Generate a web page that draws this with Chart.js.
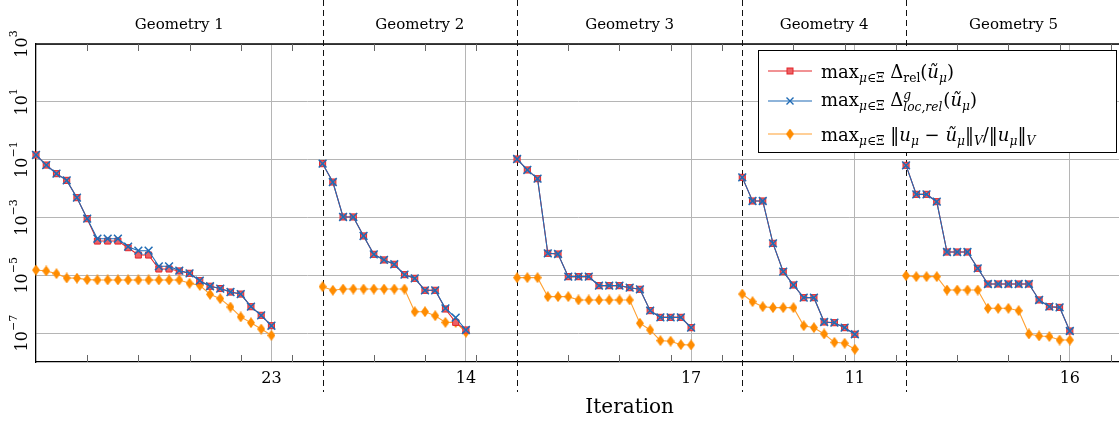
<!DOCTYPE html>
<html>
<head>
<meta charset="utf-8">
<script src="https://cdn.jsdelivr.net/npm/chart.js@4.4.1/dist/chart.umd.min.js"></script>
<style>
    html, body { margin: 0; padding: 0; background: #fff; overflow: hidden; }
    #wrap { position: relative; width: 1140px; height: 423px; }
    #legend {
        position: absolute; left: 758px; top: 50px; width: 357px; height: 101px;
        border: 1px solid #000; background: #fff;
        font-family: "DejaVu Serif", serif; font-size: 18px; color: #000;
    }
    .row { position: absolute; left: 0; height: 30px; display: flex; align-items: center; white-space: nowrap; }
    .row canvas { margin-left: 8px; margin-right: 8px; }
    sub { font-size: 0.68em; vertical-align: -0.35em; line-height: 0; }
    .ss { display: inline-block; font-size: 0.68em; line-height: 1.0; vertical-align: -0.45em; margin-right: 1px; }
    .ss > i { display: block; }
</style>
</head>
<body>
<div id="wrap">
    <canvas id="errChart"></canvas>
    <div id="legend">
        <div class="row" style="top:5px"><canvas width="46" height="20" data-s="rel"></canvas>
            <span>max<sub><i>μ</i>∈Ξ</sub> Δ<sub>rel</sub>(<i>ũ</i><sub><i>μ</i></sub>)</span></div>
        <div class="row" style="top:35px"><canvas width="46" height="20" data-s="loc"></canvas>
            <span>max<sub><i>μ</i>∈Ξ</sub> Δ<span class="ss"><i>g</i><i>loc,rel</i></span>(<i>ũ</i><sub><i>μ</i></sub>)</span></div>
        <div class="row" style="top:68px"><canvas width="46" height="20" data-s="err"></canvas>
            <span>max<sub><i>μ</i>∈Ξ</sub> ‖<i>u</i><sub><i>μ</i></sub> − <i>ũ</i><sub><i>μ</i></sub>‖<sub><i>V</i></sub>/‖<i>u</i><sub><i>μ</i></sub>‖<sub><i>V</i></sub></span></div>
    </div>
</div>
<script>
const geometries = ['Geometry 1', 'Geometry 2', 'Geometry 3', 'Geometry 4', 'Geometry 5'];
const iterations = [23, 14, 17, 11, 16];
const yTicks = [1e-7, 1e-5, 1e-3, 1e-1, 1e1, 1e3];

// max Delta_rel (red squares), one list per geometry
const relEst = [
    [1.45e-1, 6.5e-2, 3.27e-2, 1.92e-2, 4.83e-3, 9.06e-4, 1.53e-4, 1.53e-4, 1.53e-4, 9.0e-5, 5.02e-5, 5.02e-5,
     1.65e-5, 1.65e-5, 1.41e-5, 1.17e-5, 6.5e-6, 4.17e-6, 3.47e-6, 2.63e-6, 2.24e-6, 8.18e-7, 4.12e-7, 1.8e-7],
    [7.24e-2, 1.68e-2, 1.04e-3, 1.04e-3, 2.29e-4, 5.31e-5, 3.39e-5, 2.4e-5, 1.05e-5, 7.85e-6, 3.02e-6, 3.02e-6,
     6.81e-7, 2.35e-7, 1.28e-7],
    [1.05e-1, 4.39e-2, 2.19e-2, 5.75e-5, 5.44e-5, 8.95e-6, 8.95e-6, 8.95e-6, 4.37e-6, 4.37e-6, 4.37e-6, 3.72e-6,
     3.27e-6, 5.97e-7, 3.51e-7, 3.51e-7, 3.51e-7, 1.54e-7],
    [2.44e-2, 3.71e-3, 3.71e-3, 1.27e-4, 1.33e-5, 4.61e-6, 1.68e-6, 1.68e-6, 2.42e-7, 2.29e-7, 1.54e-7, 9.12e-8],
    [6.35e-2, 6.31e-3, 6.31e-3, 3.51e-3, 6.38e-5, 6.38e-5, 6.38e-5, 1.74e-5, 4.99e-6, 4.99e-6, 4.99e-6, 4.99e-6,
     4.99e-6, 1.4e-6, 8.18e-7, 7.76e-7, 1.18e-7]
];

// max Delta^g_loc,rel (blue crosses)
const locEst = [
    [1.45e-1, 6.5e-2, 3.27e-2, 1.92e-2, 4.83e-3, 9.06e-4, 1.84e-4, 1.84e-4, 1.84e-4, 9.77e-5, 7.08e-5, 7.08e-5,
     2.04e-5, 2.04e-5, 1.45e-5, 1.17e-5, 6.5e-6, 4.17e-6, 3.47e-6, 2.63e-6, 2.24e-6, 8.18e-7, 4.12e-7, 1.8e-7],
    [7.24e-2, 1.68e-2, 1.04e-3, 1.04e-3, 2.29e-4, 5.31e-5, 3.39e-5, 2.4e-5, 1.05e-5, 7.85e-6, 3.02e-6, 3.02e-6,
     7.2e-7, 3.41e-7, 1.28e-7],
    [1.05e-1, 4.39e-2, 2.19e-2, 5.75e-5, 5.44e-5, 8.95e-6, 8.95e-6, 8.95e-6, 4.37e-6, 4.37e-6, 4.37e-6, 3.72e-6,
     3.27e-6, 5.97e-7, 3.51e-7, 3.51e-7, 3.51e-7, 1.54e-7],
    [2.44e-2, 3.71e-3, 3.71e-3, 1.27e-4, 1.33e-5, 4.61e-6, 1.68e-6, 1.68e-6, 2.42e-7, 2.29e-7, 1.54e-7, 9.12e-8],
    [6.35e-2, 6.31e-3, 6.31e-3, 3.51e-3, 6.38e-5, 6.38e-5, 6.38e-5, 1.74e-5, 4.99e-6, 4.99e-6, 4.99e-6, 4.99e-6,
     4.99e-6, 1.4e-6, 8.18e-7, 7.76e-7, 1.18e-7]
];

// max ||u - u~||_V / ||u||_V (orange diamonds)
const trueErr = [
    [1.52e-5, 1.41e-5, 1.14e-5, 8.05e-6, 7.94e-6, 7.05e-6, 6.87e-6, 6.87e-6, 6.87e-6, 6.87e-6, 6.87e-6, 6.87e-6,
     6.87e-6, 6.87e-6, 6.87e-6, 5.27e-6, 4.47e-6, 2.19e-6, 1.55e-6, 7.98e-7, 3.63e-7, 2.29e-7, 1.38e-7, 8.37e-8],
    [4.04e-6, 3.02e-6, 3.35e-6, 3.35e-6, 3.35e-6, 3.35e-6, 3.35e-6, 3.35e-6, 3.35e-6, 5.5e-7, 5.5e-7, 3.98e-7,
     2.34e-7, 2.34e-7, 1.07e-7],
    [8.26e-6, 8.26e-6, 8.26e-6, 1.82e-6, 1.82e-6, 1.82e-6, 1.4e-6, 1.4e-6, 1.4e-6, 1.4e-6, 1.4e-6, 1.4e-6,
     2.19e-7, 1.28e-7, 5.5e-8, 5.25e-8, 3.98e-8, 3.89e-8],
    [2.25e-6, 1.22e-6, 8.18e-7, 7.59e-7, 7.59e-7, 7.59e-7, 1.8e-7, 1.54e-7, 9.33e-8, 4.79e-8, 4.47e-8, 2.75e-8],
    [9.7e-6, 8.95e-6, 8.95e-6, 8.95e-6, 3.09e-6, 3.09e-6, 3.09e-6, 3.09e-6, 7.19e-7, 7.19e-7, 7.19e-7, 5.97e-7,
     9.33e-8, 7.94e-8, 7.59e-8, 5.75e-8, 5.75e-8]
];

const RED = '#e3262b', PINK = '#ec6165', BLUE = '#1f6bb5', ORANGE = '#ff8c00', ORANGE_LINE = '#ffa030';
const FONT = '"DejaVu Serif", serif';
const pad = 5; // empty iterations after the last one in each panel

// each geometry gets its own stretch of the x axis
const offsets = [];
let acc = 0;
iterations.forEach(n => { offsets.push(acc); acc += n + pad; });
const xMax = acc;

function series(lists) {
    const pts = [];
    lists.forEach((vals, g) => {
        vals.forEach((v, i) => pts.push({ x: offsets[g] + i, y: v }));
        pts.push({ x: offsets[g] + iterations[g] + pad / 2, y: null }); // break between panels
    });
    return pts;
}

// pgfplots-like diamond: a bit taller than wide
function diamond(w, h, color) {
    const c = document.createElement('canvas');
    c.width = w; c.height = h;
    const g = c.getContext('2d');
    g.fillStyle = color;
    g.beginPath();
    g.moveTo(w / 2, 0); g.lineTo(w, h / 2); g.lineTo(w / 2, h); g.lineTo(0, h / 2);
    g.closePath(); g.fill();
    return c;
}
const diamondImg = diamond(8, 11, ORANGE);

const decor = {
    id: 'decor',
    beforeDatasetsDraw(chart) {
        const { ctx, chartArea: a, scales: { x } } = chart;
        ctx.save();
        // top frame
        ctx.strokeStyle = '#000';
        ctx.lineWidth = 1.3;
        ctx.beginPath(); ctx.moveTo(a.left, a.top); ctx.lineTo(a.right, a.top); ctx.stroke();
        // small inner ticks every 5 iterations
        ctx.strokeStyle = '#666';
        ctx.lineWidth = 1;
        iterations.forEach((n, g) => {
            for (let k = pad; k < n + pad; k += 5) {
                const px = Math.round(x.getPixelForValue(offsets[g] + k)) + 0.5;
                ctx.beginPath();
                ctx.moveTo(px, a.bottom); ctx.lineTo(px, a.bottom - 7);
                ctx.moveTo(px, a.top); ctx.lineTo(px, a.top + 7);
                ctx.stroke();
            }
        });
        // dashed separators between geometries
        ctx.strokeStyle = '#111';
        ctx.setLineDash([6, 4]);
        offsets.slice(1).forEach(o => {
            const px = Math.round(x.getPixelForValue(o)) + 0.5;
            ctx.beginPath(); ctx.moveTo(px, 0); ctx.lineTo(px, 392); ctx.stroke();
        });
        ctx.restore();
    },
    afterDraw(chart) {
        const { ctx, scales: { x, y } } = chart;
        ctx.save();
        ctx.fillStyle = '#000';
        ctx.textAlign = 'center';
        ctx.textBaseline = 'middle';
        // panel titles and last-iteration labels
        geometries.forEach((t, g) => {
            const left = x.getPixelForValue(offsets[g]);
            const right = x.getPixelForValue(offsets[g] + iterations[g] + pad);
            ctx.font = '15px ' + FONT;
            ctx.fillText(t, (left + right) / 2, 25);
            ctx.font = '16px ' + FONT;
            ctx.fillText(String(iterations[g]), x.getPixelForValue(offsets[g] + iterations[g]), 379);
        });
        // x title under the middle panel
        const mid = 2;
        ctx.font = '20px ' + FONT;
        ctx.fillText('Iteration', (x.getPixelForValue(offsets[mid]) + x.getPixelForValue(offsets[mid] + iterations[mid] + pad)) / 2, 408);
        // rotated y tick labels 10^k
        ctx.textAlign = 'left';
        ctx.textBaseline = 'alphabetic';
        yTicks.forEach(v => {
            const e = Math.round(Math.log10(v));
            const base = '10', exp = (e < 0 ? '\u2212' : '') + Math.abs(e);
            ctx.font = '16px ' + FONT;
            const wb = ctx.measureText(base).width;
            ctx.font = '11px ' + FONT;
            const we = ctx.measureText(exp).width;
            ctx.save();
            ctx.translate(27, y.getPixelForValue(v));
            ctx.rotate(-Math.PI / 2);
            const sx = -(wb + we) / 2;
            ctx.font = '16px ' + FONT;
            ctx.fillText(base, sx, 0);
            ctx.font = '11px ' + FONT;
            ctx.fillText(exp, sx + wb, -10);
            ctx.restore();
        });
        ctx.restore();
    }
};

new Chart(document.getElementById('errChart'), {
    type: 'line',
    data: {
        datasets: [
            {
                label: 'loc', data: series(locEst), order: 0, clip: false,
                borderColor: BLUE, borderWidth: 1.1,
                pointStyle: 'crossRot', pointRadius: 5.5, pointBorderColor: BLUE, pointBorderWidth: 1.5
            },
            {
                label: 'rel', data: series(relEst), order: 1, clip: false,
                borderColor: RED, borderWidth: 1.1,
                pointStyle: 'rect', pointRadius: 4.3, pointBackgroundColor: PINK, pointBorderColor: RED, pointBorderWidth: 1
            },
            {
                label: 'err', data: series(trueErr), order: 2, clip: false,
                borderColor: ORANGE_LINE, borderWidth: 1.1,
                pointStyle: diamondImg, pointRadius: 4
            }
        ]
    },
    options: {
        animation: false,
        responsive: true,
        maintainAspectRatio: false,
        layout: { padding: { top: 44, right: 19, left: 0, bottom: 0 } },
        elements: { line: { tension: 0 } },
        plugins: { legend: { display: false }, tooltip: { enabled: false } },
        scales: {
            x: {
                type: 'linear', min: 0, max: xMax,
                ticks: { display: false },
                afterBuildTicks: s => { s.ticks = iterations.map((n, g) => ({ value: offsets[g] + n })); },
                afterFit: s => { s.height = 61; },
                grid: { color: '#b5b5b5', lineWidth: 1, drawTicks: false },
                border: { color: '#000', width: 1.3 }
            },
            y: {
                type: 'logarithmic', min: 1e-8, max: 1e3,
                ticks: { display: false },
                afterBuildTicks: s => { s.ticks = yTicks.map(v => ({ value: v })); },
                afterFit: s => { s.width = 36; },
                grid: { color: '#b5b5b5', lineWidth: 1, drawTicks: false },
                border: { color: '#000', width: 1.3 }
            }
        }
    },
    plugins: [decor]
});

// legend symbols
document.querySelectorAll('#legend canvas').forEach(c => {
    const ctx = c.getContext('2d');
    const s = c.dataset.s;
    const cy = 10, cx = 23;
    ctx.lineWidth = 1.1;
    ctx.strokeStyle = s === 'rel' ? RED : s === 'loc' ? BLUE : ORANGE_LINE;
    ctx.beginPath(); ctx.moveTo(1, cy); ctx.lineTo(45, cy); ctx.stroke();
    if (s === 'rel') {
        ctx.fillStyle = PINK; ctx.fillRect(cx - 3, cy - 3, 6, 6);
        ctx.strokeStyle = RED; ctx.lineWidth = 1; ctx.strokeRect(cx - 3, cy - 3, 6, 6);
    } else if (s === 'loc') {
        ctx.lineWidth = 1.4;
        ctx.beginPath();
        ctx.moveTo(cx - 3.5, cy - 3.5); ctx.lineTo(cx + 3.5, cy + 3.5);
        ctx.moveTo(cx + 3.5, cy - 3.5); ctx.lineTo(cx - 3.5, cy + 3.5);
        ctx.stroke();
    } else {
        ctx.drawImage(diamondImg, cx - 4, cy - 5.5);
    }
});
</script>
</body>
</html>
